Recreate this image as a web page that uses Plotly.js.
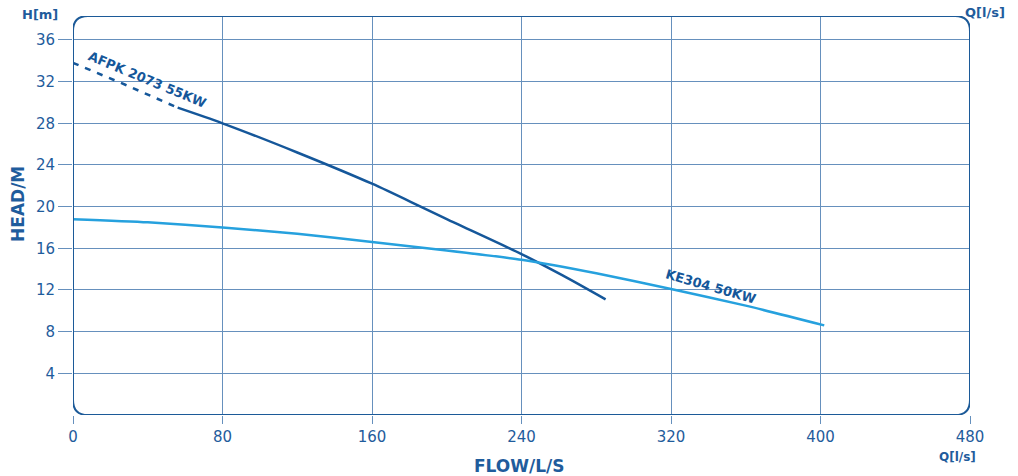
<!DOCTYPE html>
<html>
<head>
<meta charset="utf-8">
<script src="https://cdn.plot.ly/plotly-3.0.1.min.js"></script>
<style>html,body{margin:0;padding:0;background:#fff;}#chart{width:1018px;height:476px;}</style>
</head>
<body>
<div id="chart"></div>
<script>
// Data
const afpkDashX = [0, 28, 56];
const afpkDashY = [33.8, 31.7, 29.5];
const afpkX = [56, 80, 120, 160, 186, 200, 240, 262, 285];
const afpkY = [29.5, 28.0, 25.2, 22.2, 20.0, 18.8, 15.45, 13.4, 11.1];
const keX = [0, 40, 80, 120, 160, 200, 240, 280, 320, 360, 402];
const keY = [18.8, 18.5, 18.0, 17.4, 16.6, 15.8, 14.9, 13.6, 12.1, 10.5, 8.6];
const xTicks = [0, 80, 160, 240, 320, 400, 480];
const yTicks = [4, 8, 12, 16, 20, 24, 28, 32, 36];
const afpkName = 'AFPK 2073 55KW';
const keName = 'KE304 50KW';

const DARK = '#15579a';
const LIGHT = '#26a1de';
const TXT = '#1f5c9c';
const FRAME = '#1c5a98';
const GRID = '#6690bd';
const FONT = '"DejaVu Sans", sans-serif';

const X0 = 0, X1 = 480, Y0 = 0, Y1 = 38.3;
const rx = 8, ry = 1.45;
const framePath = `M ${X0+rx},${Y0} L ${X1-rx},${Y0} Q ${X1},${Y0} ${X1},${Y0+ry} L ${X1},${Y1-ry} Q ${X1},${Y1} ${X1-rx},${Y1} L ${X0+rx},${Y1} Q ${X0},${Y1} ${X0},${Y1-ry} L ${X0},${Y0+ry} Q ${X0},${Y0} ${X0+rx},${Y0} Z`;

const traces = [
  {x: afpkDashX, y: afpkDashY, mode: 'lines', line: {color: DARK, width: 2.5, dash: '6px,7px'}, hoverinfo: 'skip'},
  {x: afpkX, y: afpkY, mode: 'lines', line: {color: DARK, width: 2.5, shape: 'spline', smoothing: 0.8}, name: afpkName},
  {x: keX, y: keY, mode: 'lines', line: {color: LIGHT, width: 2.5, shape: 'spline', smoothing: 0.6}, name: keName}
];

const layout = {
  width: 1018, height: 476,
  margin: {l: 73, r: 48, t: 16, b: 61},
  paper_bgcolor: '#ffffff', plot_bgcolor: '#ffffff',
  showlegend: false,
  font: {family: FONT, color: TXT, size: 14},
  xaxis: {
    range: [X0, X1], tickvals: xTicks, ticktext: xTicks.map(String),
    showgrid: true, gridcolor: GRID, gridwidth: 1, zeroline: false, showline: false,
    ticks: 'outside', ticklen: 8, tickcolor: GRID, tickwidth: 1,
    tickfont: {family: FONT, size: 15, color: TXT}
  },
  yaxis: {
    range: [Y0, Y1], tickvals: yTicks, ticktext: yTicks.map(String),
    showgrid: true, gridcolor: GRID, gridwidth: 1, zeroline: false, showline: false,
    ticks: 'outside', ticklen: 14, tickcolor: GRID, tickwidth: 1,
    tickfont: {family: FONT, size: 15, color: TXT}
  },
  shapes: [
    {type: 'path', xref: 'x', yref: 'y', path: framePath, line: {color: FRAME, width: 2}, layer: 'above'}
  ],
  annotations: [
    {text: '<b>H[m]</b>', xref: 'paper', yref: 'paper', x: -0.0368, y: 1.005, showarrow: false, xanchor: 'center', yanchor: 'middle', font: {size: 13, color: TXT}},
    {text: '<b>Q[l/s]</b>', xref: 'paper', yref: 'paper', x: 1.0167, y: 1.008, showarrow: false, xanchor: 'center', yanchor: 'middle', font: {size: 13, color: TXT}},
    {text: '<b>Q[l/s]</b>', xref: 'paper', yref: 'paper', x: 0.9866, y: -0.106, showarrow: false, xanchor: 'center', yanchor: 'middle', font: {size: 12, color: TXT}},
    {text: '<b>FLOW/L/S</b>', xref: 'paper', yref: 'paper', x: 0.498, y: -0.128, showarrow: false, xanchor: 'center', yanchor: 'middle', font: {size: 17, color: TXT}},
    {text: '<b>HEAD/M</b>', xref: 'paper', yref: 'paper', x: -0.0613, y: 0.529, showarrow: false, xanchor: 'center', yanchor: 'middle', textangle: -90, font: {size: 17, color: TXT}},
    {text: '<b>' + afpkName + '</b>', xref: 'x', yref: 'y', x: 39.6, y: 32.2, showarrow: false, xanchor: 'center', yanchor: 'middle', textangle: 22.6, font: {size: 13, color: DARK}},
    {text: '<b>' + keName + '</b>', xref: 'x', yref: 'y', x: 341, y: 12.3, showarrow: false, xanchor: 'center', yanchor: 'middle', textangle: 16, font: {size: 13, color: DARK}}
  ]
};

Plotly.newPlot('chart', traces, layout, {staticPlot: true, displayModeBar: false});
</script>
</body>
</html>
